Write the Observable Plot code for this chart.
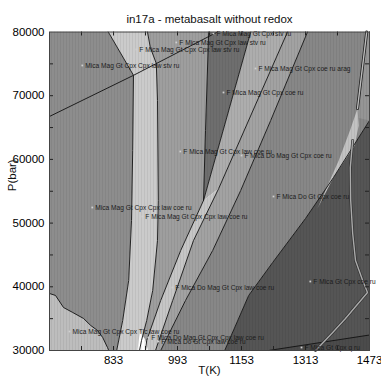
<!DOCTYPE html>
<html><head><meta charset="utf-8">
<script src="https://cdn.jsdelivr.net/npm/d3@7"></script>
<script src="https://cdn.jsdelivr.net/npm/@observablehq/plot@0.6"></script>
<style>body{margin:0;background:#fff;} #c svg{font-family:"Liberation Sans",Arial,sans-serif;}</style>
</head><body><div id="c"></div><script>
// ---- axis ticks ----
const xTickLabels = [833, 993, 1153, 1313, 1473];
const xTickMarks = [753, 833, 913, 993, 1073, 1153, 1233, 1313, 1393, 1473];
const yTickLabels = [30000, 40000, 50000, 60000, 70000, 80000];
const yTickMarks = [35000, 40000, 45000, 50000, 55000, 60000, 65000, 70000, 75000];

// ---- phase boundaries [T(K), P(bar)] ----
const bL = [[820,80000],[883,73200],[881,61400],[878,50400],[871,41000],[856,34700],[841,30000]];
const bR = [[918,80000],[925,77570],[940,75060],[943,69250],[945,53550],[943,47270],[931,39420],[916,34710],[903,31570],[898,30000]];
const diag = [[673,66740],[883,73200],[1093,80000]];
const tlcLine = [[673,38950],[688,38640],[708,36750],[731,35970],[758,35030],[776,33930],[793,33140],[806,32040],[818,30470],[821,30000]];
const dLeft = [[1071,80000],[1063,64540],[1058,53550]];
const L1 = [[1176,80000],[1058,53550],[1001,45700],[951,37850],[916,31570],[913,30000]];
const L2 = [[1268,80000],[1096,55430],[1033,47270],[981,37850],[938,30000]];
const L3 = [[1318,80000],[1226,66110],[1151,55120],[1081,45700],[1013,37850],[951,30000]];
const gLeft = [[1473,66110],[1383,57160],[1313,50720],[1231,43820],[1171,38640],[1111,30000]];
const qLine = [[1221,30000],[1473,32430]];
const dbl = [[1466,80000],[1443,67990]];
const sliverPts = [[1443,67990],[1446,65330],[1436,62190],[1383,57160],[1343,52290],[1396,59830],[1426,64850]];
const curve = [[1431,63000],[1425,58730],[1426,53550],[1431,48370],[1438,44130],[1456,40990],[1468,39110],[1413,35020],[1381,32830],[1343,30310],[1338,30000]];
const whitePatch = [[900,33140],[905,32300],[911,31880],[920,30000],[893,30000],[896,31570]];

// ---- field labels ----
const labelText = [
 "Mica Mag Gt Cpx Cpx law stv ru","F Mica Mag Gt Cpx Cpx law stv ru","F Mica Mag Gt Cpx law stv ru",
 "F Mica Mag Gt Cpx stv ru","F Mica Mag Gt Cpx coe ru arag","F Mica Mag Gt Cpx coe ru",
 "F Mica Mag Gt Cpx law coe ru","F Mica Do Mag Gt Cpx coe ru","Mica Mag Gt Cpx Cpx law coe ru",
 "F Mica Mag Gt Cpx Cpx law coe ru","F Mica Do Gt Cpx coe ru","F Mica Do Mag Gt Cpx law coe ru",
 "F Mica Gt Cpx coe ru","Mica Mag Gt Cpx Cpx Tlc law coe ru","F Mica Do Mag Gt Cpx Cpx law coe ru",
 "F Mica Do Gt Cpx law coe ru","F Mica Gt Cpx q ru"];
const labelT = [755,890,990,1083,1188,1108,1000,1153,780,905,1233,980,1325,723,920,945,1303];
const labelP = [74745,77257,78356,79764,74274,70506,61243,60615,52451,51038,54178,39891,40833,32983,32041,31413,30471];

// ---- build polygons from the boundaries ----
const T0 = 673, T1 = 1473, P0 = 30000, P1 = 80000;
const rev = a => a.slice().reverse();
const tip = L1[1];
const polys = [
 {c:"#8d8d8d", pts:[[T0,P1], ...bL, [T0,P0]]},
 {c:"#bdbdbd", pts:[...tlcLine, [T0,P0]]},
 {c:"#cbcbcb", pts:[...bL, ...rev(bR)]},
 {c:"#9e9e9e", pts:[...bR, ...rev(L1.slice(1)), ...rev(dLeft.slice(0,2))]},
 {c:"#6e6e6e", pts:[...dLeft, L1[0]]},
 {c:"#adadad", pts:[L1[0], tip, L2[1], L2[0]]},
 {c:"#c6c6c6", pts:[...L1.slice(1), ...rev(L2.slice(1))]},
 {c:"#a2a2a2", pts:[...L2, ...rev(L3)]},
 {c:"#878787", pts:[...L3, ...rev(gLeft), [T1,P1]]},
 {c:"#959595", pts:[dbl[0], [T1,P1], gLeft[0], [1446,66500], dbl[1]]},
 {c:"#555555", pts:[...gLeft, [T1,P0]]},
 {c:"#4b4b4b", pts:[...qLine, [T1,P0]]},
 {c:"#c2c2c2", pts:sliverPts},
 {c:"#ffffff", pts:whitePatch}
];
const polyRows = polys.flatMap((p,i) => p.pts.map(([T,P]) => ({T,P,i,c:p.c})));
const lines = [bL,bR,diag,tlcLine,dLeft,L1,L2,L3,gLeft,qLine];
const lineRows = lines.flatMap((l,i) => l.map(([T,P]) => ({T,P,i})));
const labels = labelText.map((t,i) => ({t, T:labelT[i], P:labelP[i]}));

const plotH = 378 - 31.5 - 28, plotW = 381 - 49 - 12;
const chart = Plot.plot({
 width:381, height:378, marginLeft:49, marginRight:12, marginTop:31.5, marginBottom:28,
 style:{fontFamily:'"Liberation Sans",Arial,sans-serif', background:"#fff"},
 x:{domain:[T0,T1]}, y:{domain:[P0,P1]},
 marks:[
  Plot.line(polyRows,{x:"T",y:"P",z:"i",fill:"c",stroke:null,curve:"linear-closed"}),
  Plot.line(lineRows,{x:"T",y:"P",z:"i",stroke:"#111",strokeWidth:0.9}),
  Plot.line(dbl,{x:d=>d[0],y:d=>d[1],stroke:"#222",strokeWidth:3}),
  Plot.line(dbl,{x:d=>d[0],y:d=>d[1],stroke:"#bbb",strokeWidth:1.4}),
  Plot.line(curve,{x:d=>d[0],y:d=>d[1],stroke:"#333",strokeWidth:2.8}),
  Plot.line(curve,{x:d=>d[0],y:d=>d[1],stroke:"#aaaaaa",strokeWidth:1.4}),
  Plot.dot(labels,{x:"T",y:"P",r:1,fill:"#d0d0d0",stroke:null,symbol:"square"}),
  Plot.text(labels,{x:"T",y:"P",text:"t",textAnchor:"start",dx:3,fontSize:6.6,fill:"#1c1c1c"}),
  Plot.tickX(xTickMarks,{x:d=>d,insetTop:plotH-4,stroke:"#222"}),
  Plot.tickX(xTickMarks,{x:d=>d,insetBottom:plotH-4,stroke:"#222"}),
  Plot.tickY(yTickMarks,{y:d=>d,insetRight:plotW-4,stroke:"#222"}),
  Plot.tickY(yTickMarks,{y:d=>d,insetLeft:plotW-4,stroke:"#222"}),
  Plot.frame({stroke:"#444",strokeWidth:1}),
  Plot.axisX({ticks:xTickLabels,tickSize:0,tickPadding:5,label:null,fontSize:11.5,tickFormat:d=>String(d)}),
  Plot.axisY({ticks:yTickLabels,tickSize:0,tickPadding:5,label:null,fontSize:11.5,tickFormat:d=>String(d)}),
  Plot.text(["T(K)"],{frameAnchor:"bottom",dy:23,fontSize:11.5,fill:"#111"}),
  Plot.text(["P(bar)"],{frameAnchor:"left",dx:-37,rotate:-90,fontSize:11.5,fill:"#111"}),
  Plot.text(["in17a - metabasalt without redox"],{frameAnchor:"top",dy:-17,fontSize:11.5,fill:"#111"})
 ]
});
// subtle vertical shading texture over the plot area (style only)
const svg = d3.select(chart);
const defs = svg.insert("defs", ":first-child");
const pat = defs.append("pattern").attr("id","stripes").attr("patternUnits","userSpaceOnUse")
  .attr("width",3).attr("height",10);
pat.append("rect").attr("x",0).attr("y",0).attr("width",1).attr("height",10).attr("fill","#000").attr("opacity",0.06);
const firstLine = svg.select("g[aria-label='line']");
svg.insert("rect", () => firstLine.node().nextSibling)
  .attr("x",49).attr("y",31.5).attr("width",plotW).attr("height",plotH).attr("fill","url(#stripes)");
document.getElementById("c").appendChild(chart);
</script></body></html>
